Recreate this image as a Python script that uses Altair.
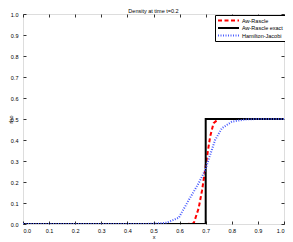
import altair as alt
import pandas as pd

series_names = ["Aw-Rascle", "Aw-Rascle exact", "Hamilton-Jacobi"]

x_aw = [0.0, 0.60, 0.63, 0.654, 0.673, 0.686, 0.698, 0.708, 0.717, 0.730, 0.749, 0.77, 1.0]
y_aw = [0.0, 0.0, 0.0, 0.003, 0.075, 0.16, 0.26, 0.344, 0.416, 0.48, 0.5, 0.5, 0.5]

x_ex = [0.0, 0.7, 0.7, 1.0]
y_ex = [0.0, 0.0, 0.5, 0.5]

x_hj = [0.0, 0.45, 0.50, 0.55, 0.597, 0.635, 0.673, 0.698, 0.717, 0.736, 0.762, 0.80, 0.85, 0.90, 1.0]
y_hj = [0.0, 0.0, 0.001, 0.006, 0.03, 0.114, 0.194, 0.257, 0.329, 0.40, 0.456, 0.487, 0.498, 0.5, 0.5]

tick_vals = [0, 0.1, 0.2, 0.3, 0.4, 0.5, 0.6, 0.7, 0.8, 0.9, 1]

rows = []
for name, xs, ys in [(series_names[0], x_aw, y_aw), (series_names[1], x_ex, y_ex), (series_names[2], x_hj, y_hj)]:
    for i, (xv, yv) in enumerate(zip(xs, ys)):
        rows.append({"series": name, "x": xv, "rho": yv, "i": i})
df = pd.DataFrame(rows)

FONT = "Liberation Sans"

xscale = alt.Scale(domain=[0, 1], nice=False, zero=False)
yscale = alt.Scale(domain=[0, 1], nice=False, zero=False)

def ax(orient, title, labels=True, **kw):
    return alt.Axis(orient=orient, title=title, values=tick_vals, labels=labels,
                    ticks=True, tickSize=3, offset=-3, domain=False, grid=False,
                    tickColor="black", tickWidth=0.8,
                    labelFontSize=5.5, labelFont=FONT, labelColor="black",
                    labelPadding=4 if orient in ("bottom", "top") else 5,
                    titleFontSize=5.5, titleFont=FONT, titleFontWeight="normal",
                    titleColor="black", **kw)

def leg():
    return alt.Legend(title=None, orient="none", legendX=192, legendY=1,
                      fillColor="white", strokeColor="black", padding=2,
                      rowPadding=0.5, labelFontSize=5.5, labelFont=FONT,
                      labelColor="black", symbolType="stroke", symbolSize=440,
                      clipHeight=7, labelOffset=2, labelLimit=200)

color = alt.Color("series:N", scale=alt.Scale(domain=series_names, range=["#ff0000", "#000000", "#4a5cff"]),
                  legend=leg())
dash = alt.StrokeDash("series:N", scale=alt.Scale(domain=series_names, range=[[4, 2.5], [1, 0], [1, 1.5]]),
                      legend=leg())
width_enc = alt.StrokeWidth("series:N", scale=alt.Scale(domain=series_names, range=[2, 2, 1.1]),
                            legend=leg())

lines = alt.Chart(df).mark_line(clip=True).encode(
    x=alt.X("x:Q", scale=xscale, axis=ax("bottom", "x", titlePadding=1)),
    y=alt.Y("rho:Q", scale=yscale, axis=ax("left", "rho", titleX=-18, titleY=105,
                                           titleBaseline="top", titleAngle=270)),
    color=color,
    strokeDash=dash,
    strokeWidth=width_enc,
    order="i:Q",
)

frame_axes = alt.Chart(df).mark_point(opacity=0).encode(
    x=alt.X("x:Q", scale=xscale, axis=ax("top", None, labels=False)),
    y=alt.Y("rho:Q", scale=yscale, axis=ax("right", None, labels=False)),
)

chart = alt.layer(frame_axes, lines).resolve_axis(x="independent", y="independent").properties(
    width=261, height=210,
    title=alt.TitleParams("Density at time t=0.2", fontSize=5.5, font=FONT, fontWeight="normal",
                          color="black", offset=1, dy=3),
    autosize=alt.AutoSizeParams(type="none"),
    padding={"left": 15, "top": 6, "right": 1, "bottom": 18},
).configure_view(stroke="black", strokeWidth=0.8).configure(background="white")

chart.save("out.html", embed_options={"renderer": "svg", "actions": False})
